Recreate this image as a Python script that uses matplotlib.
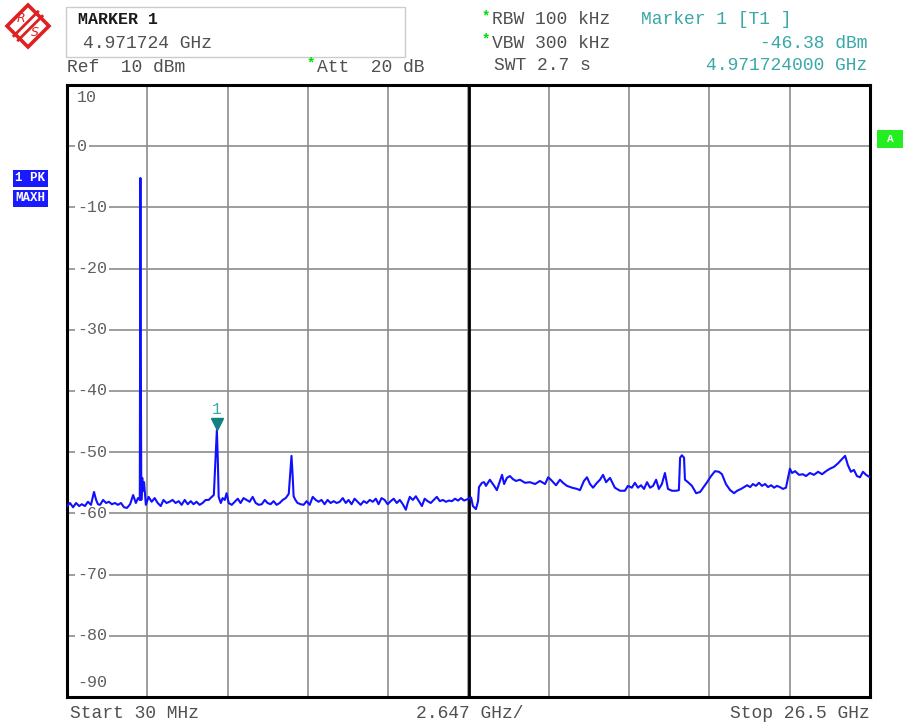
import matplotlib
matplotlib.use("Agg")
import matplotlib.pyplot as plt
import matplotlib.transforms as mtransforms
from matplotlib.patches import Polygon, Rectangle
import numpy as np

W, H = 906, 727
MONO = ["Liberation Mono", "DejaVu Sans Mono"]

# sweep settings
F_START, F_STOP = 0.03, 26.5      # GHz
REF_TOP, REF_BOTTOM = 10, -90     # dBm
Y_LABELS = ["10", "0", "-10", "-20", "-30", "-40", "-50", "-60", "-70", "-80", "-90"]
Y_LABEL_POS = [8.0, 0, -10, -20, -30, -40, -50, -60, -70, -80, -87.7]

MARKER_F = 4.971724
MARKER_LVL = -46.38

# trace (GHz, dBm)
freq_ghz = [
    0.03, 0.13, 0.23, 0.33, 0.43, 0.52, 0.62, 0.72, 0.82, 0.92, 0.99, 1.05, 1.12, 1.22,
    1.32, 1.41, 1.51, 1.61, 1.71, 1.81, 1.91, 2.01, 2.11, 2.21, 2.30, 2.37, 2.43, 2.45,
    2.46, 2.48, 2.51, 2.54, 2.57, 2.63, 2.72, 2.82, 2.92, 3.02, 3.12, 3.21, 3.31, 3.41,
    3.51, 3.61, 3.71, 3.81, 3.91, 4.01, 4.11, 4.20, 4.30, 4.40, 4.50, 4.60, 4.70, 4.80,
    4.87, 4.97, 5.00, 5.03, 5.10, 5.16, 5.23, 5.29, 5.36, 5.46, 5.56, 5.66, 5.75, 5.85,
    5.95, 6.05, 6.15, 6.25, 6.35, 6.45, 6.55, 6.64, 6.74, 6.84, 6.94, 7.04, 7.14, 7.24,
    7.34, 7.43, 7.47, 7.50, 7.56, 7.63, 7.73, 7.83, 7.93, 8.03, 8.13, 8.23, 8.32, 8.42,
    8.52, 8.62, 8.72, 8.82, 8.92, 9.02, 9.12, 9.22, 9.31, 9.41, 9.51, 9.61, 9.71, 9.81,
    9.91, 10.01, 10.11, 10.21, 10.30, 10.40, 10.50, 10.60, 10.70, 10.80, 10.90, 11.00,
    11.10, 11.20, 11.26, 11.33, 11.43, 11.53, 11.63, 11.73, 11.82, 11.92, 12.02, 12.12,
    12.22, 12.32, 12.42, 12.52, 12.62, 12.72, 12.82, 12.92, 13.02, 13.12, 13.22, 13.35,
    13.41, 13.51, 13.58, 13.61, 13.71, 13.78, 13.84, 13.97, 14.11, 14.20, 14.30, 14.37,
    14.44, 14.53, 14.63, 14.73, 14.83, 14.96, 15.13, 15.29, 15.46, 15.62, 15.79, 15.89,
    15.98, 16.15, 16.28, 16.38, 16.51, 16.68, 16.84, 16.94, 17.07, 17.17, 17.27, 17.37,
    17.50, 17.60, 17.70, 17.80, 17.93, 18.09, 18.26, 18.42, 18.52, 18.65, 18.75, 18.85,
    18.95, 19.05, 19.15, 19.25, 19.35, 19.45, 19.54, 19.64, 19.74, 19.84, 19.97, 20.11,
    20.20, 20.24, 20.30, 20.37, 20.40, 20.50, 20.63, 20.77, 20.90, 21.00, 21.13, 21.26,
    21.39, 21.52, 21.62, 21.75, 21.89, 22.02, 22.12, 22.25, 22.35, 22.45, 22.55, 22.64,
    22.74, 22.84, 22.94, 23.04, 23.14, 23.24, 23.34, 23.43, 23.53, 23.63, 23.73, 23.86,
    23.93, 24.03, 24.16, 24.29, 24.39, 24.52, 24.65, 24.79, 24.92, 25.05, 25.18, 25.31,
    25.45, 25.58, 25.68, 25.77, 25.87, 25.97, 26.07, 26.17, 26.27, 26.37, 26.50,
]
level_dbm = [
    -58.8, -58.3, -59.0, -58.3, -58.8, -58.5, -58.8, -58.1, -58.6, -56.5, -57.8, -58.5, -58.6, -57.8,
    -58.3, -58.1, -58.5, -58.3, -58.6, -58.3, -59.0, -59.1, -58.5, -57.0, -58.3, -57.5, -57.8, -5.2,
    -32.0, -57.8, -54.2, -56.3, -54.9, -58.6, -57.3, -58.1, -57.5, -58.3, -58.8, -57.8, -58.3, -58.1,
    -57.8, -58.3, -58.0, -58.6, -57.8, -58.5, -58.0, -58.5, -58.1, -58.6, -58.3, -57.8, -57.8, -57.3,
    -57.0, -46.38, -51.0, -57.3, -58.3, -57.5, -57.8, -56.7, -58.3, -58.6, -58.1, -57.6, -58.3, -57.5,
    -57.8, -58.1, -57.3, -58.3, -58.6, -58.5, -57.8, -58.3, -58.5, -58.0, -58.6, -58.3, -57.8, -57.5,
    -56.8, -50.6, -54.0, -57.2, -57.8, -58.3, -58.5, -58.6, -58.0, -58.6, -57.3, -57.8, -58.1, -57.8,
    -58.5, -57.8, -58.3, -58.0, -58.3, -58.1, -57.5, -58.3, -57.8, -58.5, -57.6, -58.1, -58.6, -58.0,
    -58.3, -57.8, -58.1, -57.6, -58.5, -57.5, -57.8, -58.5, -58.0, -57.6, -58.3, -57.8,
    -58.5, -59.4, -58.3, -57.3, -57.8, -57.2, -58.0, -58.8, -57.6, -58.0, -58.3, -57.8,
    -57.3, -58.0, -57.8, -58.1, -57.9, -58.0, -57.6, -57.9, -57.5, -57.9, -57.7, -57.4,
    -58.8, -59.3, -58.0, -55.7, -55.0, -54.9, -55.5, -54.5, -55.5, -56.2, -54.7, -53.7,
    -55.2, -54.2, -53.9, -54.4, -54.7, -54.5, -55.0, -54.9, -55.2, -54.7, -55.2, -54.1,
    -54.5, -55.4, -54.5, -55.0, -55.5, -55.8, -56.0, -56.2, -54.7, -54.1, -55.2, -55.8,
    -55.0, -54.5, -53.7, -54.9, -54.2, -55.8, -56.3, -56.3, -55.5, -55.8, -55.0, -55.8,
    -55.4, -56.0, -54.9, -55.8, -55.5, -54.5, -56.0, -55.2, -53.4, -56.0, -56.3, -56.3,
    -56.2, -50.9, -50.5, -50.9, -54.5, -54.9, -55.5, -56.7, -56.5, -55.8, -54.9, -53.9,
    -53.1, -53.2, -53.6, -55.2, -56.2, -56.7, -56.3, -56.0, -55.7, -55.4, -55.7, -55.2,
    -55.5, -55.0, -55.5, -55.2, -55.7, -55.4, -55.8, -55.5, -55.7, -56.0, -55.8, -52.7,
    -53.4, -53.1, -53.7, -53.6, -53.9, -53.4, -53.7, -53.2, -53.6, -53.1, -52.7, -52.4,
    -51.8, -51.1, -50.6, -52.1, -53.2, -52.9, -53.9, -54.1, -53.2, -53.7, -54.1,
]

TEAL = "#3aa8a8"
GREEN = "#00dd00"
BLUE = "#1010ff"
GREY_TXT = "#505050"
FS = 13


def fx(x):
    return x / W


def fy(y):
    return 1 - y / H


fig = plt.figure(figsize=(W / 100, H / 100), dpi=100)
fig.patch.set_facecolor("white")

ax = fig.add_axes([fx(67), fy(697), 803 / W, 612 / H])
ax.set_xlim(F_START, F_STOP)
ax.set_ylim(REF_BOTTOM, REF_TOP)
ax.set_xticks(np.linspace(F_START, F_STOP, 11))
ax.set_yticks(range(REF_BOTTOM, REF_TOP + 1, 10))
ax.tick_params(length=0, labelbottom=False, labelleft=False)
ax.grid(color="#8c8c8c", lw=1.2, zorder=1)
ax.set_axisbelow(True)
ax.axvline((F_START + F_STOP) / 2, color="black", lw=2.0, zorder=2)
for s in ax.spines.values():
    s.set_linewidth(2.2)
    s.set_color("black")

# level labels sit inside the grid
lbl_tr = mtransforms.blended_transform_factory(ax.transAxes, ax.transData)
for txt, yv in zip(Y_LABELS, Y_LABEL_POS):
    ax.text(0.0125, yv, txt, transform=lbl_tr, ha="left", va="center",
            fontsize=12, color="#606060", family=MONO, zorder=3,
            bbox=dict(boxstyle="square,pad=0.12", fc="white", ec="none"))

ax.plot(freq_ghz, level_dbm, color=BLUE, lw=1.5, zorder=4)

# marker 1
mk_tr = mtransforms.offset_copy(ax.transData, fig=fig, y=6, units="dots")
ax.plot([MARKER_F], [MARKER_LVL], marker="v", ms=8, color="#118080",
        transform=mk_tr, zorder=5, clip_on=False)
ax.annotate("1", (MARKER_F, MARKER_LVL), xytext=(0, 13), textcoords="offset pixels",
            ha="center", va="bottom", fontsize=11.5, color=TEAL, family=MONO)

# header texts
fig.add_artist(Rectangle((fx(66), fy(57)), 339 / W, 50 / H, transform=fig.transFigure,
                         fill=False, ec="#cccccc", lw=1))
fig.text(fx(78), fy(19), "MARKER 1", fontsize=12, fontweight="bold", family=MONO,
         color="#1a1a1a", va="center")
fig.text(fx(83), fy(44), "4.971724 GHz", fontsize=FS, family=MONO, color=GREY_TXT, va="center")
fig.text(fx(67), fy(67), "Ref  10 dBm", fontsize=FS, family=MONO, color=GREY_TXT, va="center")
fig.text(fx(307), fy(63), "*", fontsize=10, fontweight="bold", color=GREEN, family=MONO, va="center")
fig.text(fx(317), fy(67), "Att  20 dB", fontsize=FS, family=MONO, color=GREY_TXT, va="center")

fig.text(fx(482), fy(16), "*", fontsize=10, fontweight="bold", color=GREEN, family=MONO, va="center")
fig.text(fx(492), fy(20), "RBW 100 kHz", fontsize=FS, family=MONO, color=GREY_TXT, va="center")
fig.text(fx(482), fy(39), "*", fontsize=10, fontweight="bold", color=GREEN, family=MONO, va="center")
fig.text(fx(492), fy(43), "VBW 300 kHz", fontsize=FS, family=MONO, color=GREY_TXT, va="center")
fig.text(fx(494), fy(66), "SWT 2.7 s", fontsize=FS, family=MONO, color=GREY_TXT, va="center")

fig.text(fx(641), fy(20), "Marker 1 [T1 ]", fontsize=FS, family=MONO, color=TEAL, va="center")
fig.text(fx(867), fy(43), "-46.38 dBm", fontsize=FS, family=MONO, color=TEAL, va="center", ha="right")
fig.text(fx(867), fy(66), "4.971724000 GHz", fontsize=FS, family=MONO, color=TEAL, va="center", ha="right")

# footer
fig.text(fx(70), fy(713), "Start 30 MHz", fontsize=FS, family=MONO, color=GREY_TXT, va="center")
fig.text(fx(416), fy(713), "2.647 GHz/", fontsize=FS, family=MONO, color=GREY_TXT, va="center")
fig.text(fx(870), fy(713), "Stop 26.5 GHz", fontsize=FS, family=MONO, color=GREY_TXT,
         va="center", ha="right")

# trace info boxes on the left
for yy, txt in [(178, "1 PK"), (198, "MAXH")]:
    fig.text(fx(30), fy(yy), txt, fontsize=9, fontweight="bold", family=MONO, color="white",
             ha="center", va="center",
             bbox=dict(boxstyle="square,pad=0.2", fc="#1a1aff", ec="none"))

# screen A tag
fig.add_artist(Rectangle((fx(877), fy(148)), 26 / W, 18 / H, transform=fig.transFigure,
                         fc="#22ee22", ec="none"))
fig.text(fx(890), fy(139), "A", fontsize=8, fontweight="bold", color="white",
         ha="center", va="center", family=MONO)

# R&S logo
cx, cy, r = 28, 26, 21
diamond = [(fx(cx), fy(cy - r)), (fx(cx + r), fy(cy)), (fx(cx), fy(cy + r)), (fx(cx - r), fy(cy))]
fig.add_artist(Polygon(diamond, closed=True, transform=fig.transFigure,
                       fc="white", ec="#e02020", lw=2.6))
for d in (-2.2, 2.2):
    fig.add_artist(plt.Line2D([fx(cx - 12 + d), fx(cx + 12 + d)], [fy(cy + 12 + d), fy(cy - 12 + d)],
                              transform=fig.transFigure, color="#e02020", lw=2.0))
fig.text(fx(21), fy(19), "R", fontsize=9, color="#e02020", ha="center", va="center", style="italic")
fig.text(fx(35), fy(33), "S", fontsize=9, color="#e02020", ha="center", va="center", style="italic")

fig.savefig("out.png", dpi=100, facecolor="white")
